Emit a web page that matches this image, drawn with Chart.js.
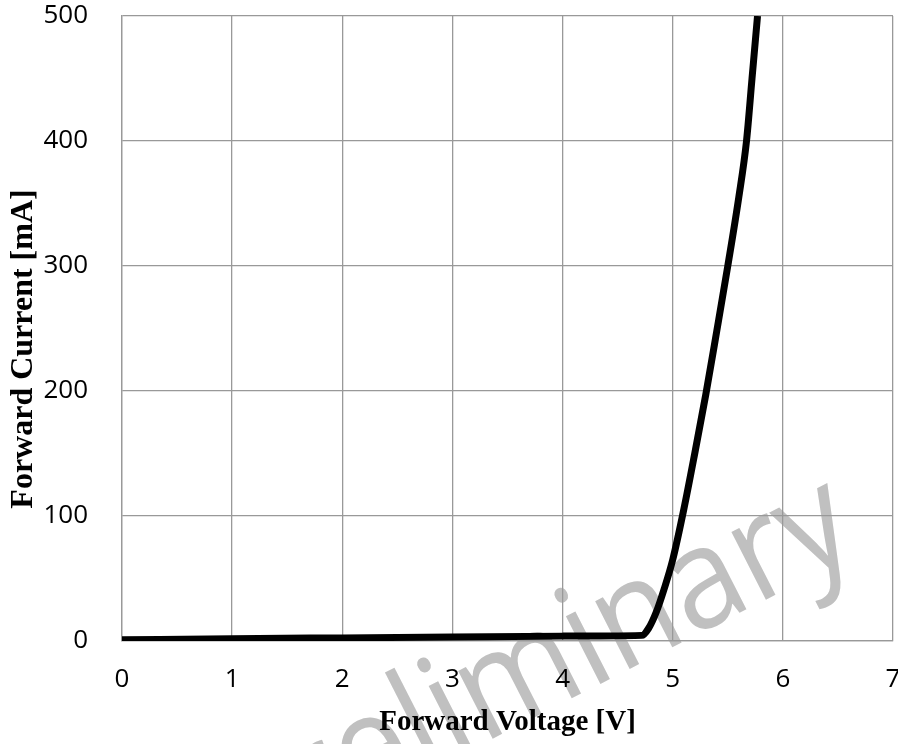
<!DOCTYPE html>
<html><head><meta charset="utf-8">
<script src="https://cdn.jsdelivr.net/npm/chart.js@4.4.1/dist/chart.umd.min.js"></script>
<style>html,body{margin:0;padding:0;background:#fff}#wrap{width:898px;height:744px}</style>
</head><body><div id="wrap"><canvas id="c" width="898" height="744"></canvas></div>
<script>
const voltage = [0, 1, 2, 3, 4, 4.72, 4.78, 4.85, 4.92, 5.0, 5.1, 5.2, 5.3, 5.4, 5.5, 5.6, 5.67, 5.72, 5.77];
const current = [1, 1.8, 2.5, 3.2, 3.9, 4.5, 10, 23, 41, 65, 105, 150, 197, 248, 300, 355, 400, 450, 500];
const xTicks = [0, 1, 2, 3, 4, 5, 6, 7];
const yTicks = [0, 100, 200, 300, 400, 500];
const xTitle = 'Forward Voltage [V]';
const yTitle = 'Forward Current [mA]';
const watermark = 'Preliminary';

const watermarkPlugin = {
  id: 'wm',
  beforeDraw(chart) {
    const ctx = chart.ctx;
    ctx.save();
    ctx.translate(241, 867);
    ctx.rotate(-27 * Math.PI / 180);
    ctx.scale(0.92, 1);
    ctx.font = '142px "Open Sans"';
    ctx.fillStyle = '#c0c0c0';
    ctx.textAlign = 'left';
    ctx.textBaseline = 'alphabetic';
    ctx.fillText(watermark, 0, 0);
    ctx.restore();
  }
};
const titlesPlugin = {
  id: 'titles',
  afterDraw(chart) {
    const ctx = chart.ctx;
    const a = chart.chartArea;
    ctx.save();
    ctx.fillStyle = '#000';
    ctx.font = 'bold 29px "Liberation Serif"';
    ctx.textAlign = 'center';
    ctx.textBaseline = 'alphabetic';
    ctx.fillText(xTitle, (a.left + a.right) / 2, 730);
    ctx.translate(32, 349);
    ctx.rotate(-Math.PI / 2);
    ctx.font = 'bold 32px "Liberation Serif"';
    ctx.fillText(yTitle, 0, 0);
    ctx.restore();
  }
};

new Chart(document.getElementById('c'), {
  type: 'scatter',
  data: {
    datasets: [{
      data: voltage.map((v, i) => ({x: v, y: current[i]})),
      showLine: true,
      borderColor: '#000',
      borderWidth: 7,
      pointRadius: 0,
      cubicInterpolationMode: 'monotone',
      fill: false
    }]
  },
  options: {
    responsive: false,
    animation: false,
    devicePixelRatio: 1,
    layout: {padding: {left: 0, right: 5, top: 16, bottom: 0}},
    plugins: {legend: {display: false}, tooltip: {enabled: false}},
    scales: {
      x: {
        type: 'linear', min: 0, max: 7,
        afterBuildTicks(s) { s.ticks = xTicks.map(v => ({value: v})); },
        ticks: {padding: 23, color: '#000', font: {family: 'Open Sans', size: 26}},
        grid: {color: '#999', lineWidth: 1.3, drawTicks: false},
        border: {color: '#999', width: 1.3},
        afterFit(s) { s.height = 103; s.paddingLeft = 0; s.paddingRight = 0; }
      },
      y: {
        type: 'linear', min: 0, max: 500,
        afterBuildTicks(s) { s.ticks = yTicks.map(v => ({value: v})); },
        ticks: {padding: 34, color: '#000', font: {family: 'Open Sans', size: 26}},
        grid: {color: '#999', lineWidth: 1.3, drawTicks: false},
        border: {color: '#999', width: 1.3},
        afterFit(s) { s.width = 122; s.paddingTop = 0; s.paddingBottom = 0; }
      }
    }
  },
  plugins: [watermarkPlugin, titlesPlugin]
});
</script>
</body></html>
